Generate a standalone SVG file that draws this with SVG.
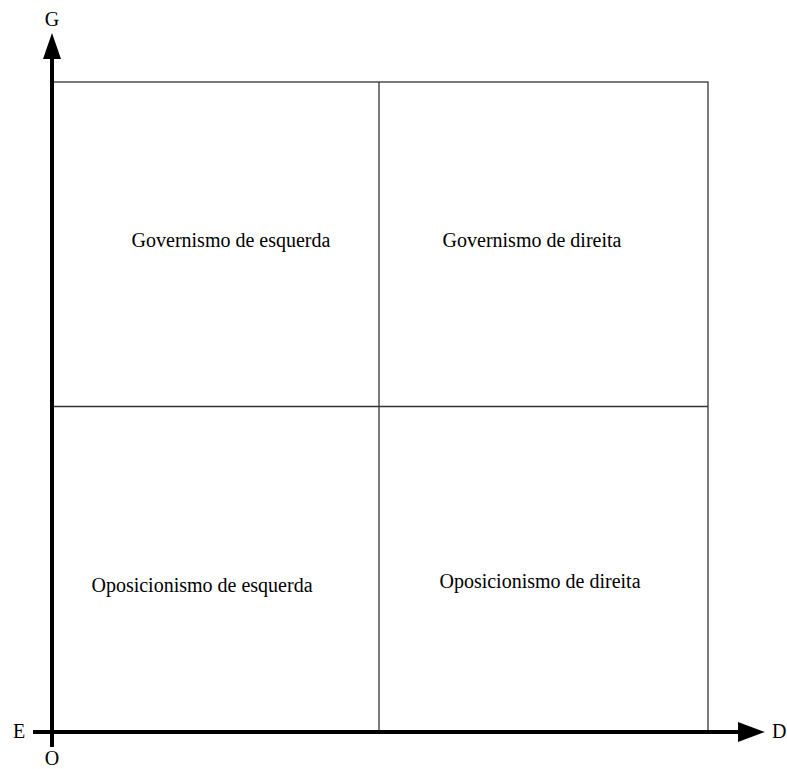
<svg xmlns="http://www.w3.org/2000/svg" width="787" height="769" viewBox="0 0 787 769">
<style>
.t{font-family:"Liberation Serif","Times New Roman",serif;font-size:20px;fill:#000}
.g{stroke:#333;stroke-width:1.3;fill:none}
.ax{stroke:#000;stroke-width:4;fill:none}
</style>
<rect width="787" height="769" fill="#fff"/>
<g id="grid">
<rect class="g" x="52" y="82" width="656" height="650"/>
<line class="g" x1="379" y1="82" x2="379" y2="732"/>
<line class="g" x1="52" y1="406.5" x2="708" y2="406.5"/>
</g>
<g id="connectors">
<line class="ax" x1="52" y1="55" x2="52" y2="747"/>
<polygon points="52,33 61,59 43,59" fill="#000"/>
<line class="ax" x1="33" y1="732" x2="742" y2="732"/>
<polygon points="765,732 738,722 738,742" fill="#000"/>
</g>
<g id="labels">
<text class="t" x="52" y="26" text-anchor="middle">G</text>
<text class="t" x="19" y="738" text-anchor="middle">E</text>
<text class="t" x="52" y="765" text-anchor="middle">O</text>
<text class="t" x="772" y="738">D</text>
</g>
<g id="q1"><text class="t" x="231" y="247" text-anchor="middle">Governismo de esquerda</text></g>
<g id="q2"><text class="t" x="532" y="247" text-anchor="middle">Governismo de direita</text></g>
<g id="q3"><text class="t" x="202" y="592" text-anchor="middle">Oposicionismo de esquerda</text></g>
<g id="q4"><text class="t" x="540" y="588" text-anchor="middle">Oposicionismo de direita</text></g>
</svg>
